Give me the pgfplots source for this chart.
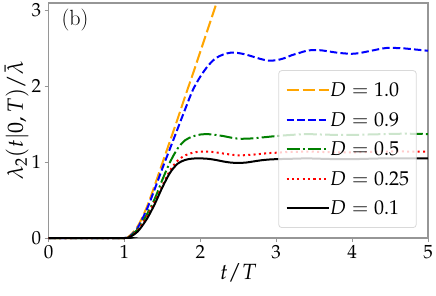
\documentclass[border=0pt]{standalone}
\usepackage{mathpazo}
\usepackage{pgfplots}
\pgfplotsset{compat=1.18}
\definecolor{mplorange}{RGB}{255,165,0}
\definecolor{mplgreen}{RGB}{0,128,0}
\definecolor{spine}{RGB}{150,150,150}
\begin{document}
\begin{tikzpicture}
\begin{axis}[
  scale only axis,
  width=379.4pt, height=235pt,
  xmin=0, xmax=5, ymin=0, ymax=3.1,
  xtick={0,1,2,3,4,5}, ytick={0,1,2,3},
  tick pos=left, tick align=outside,
  major tick length=4pt,
  axis line style={spine, line width=1.1pt},
  every tick/.style={spine, line width=1pt},
  tick label style={font=\fontsize{19}{22}\selectfont},
  label style={font=\fontsize{22}{26}\selectfont},
  xlabel={$t/T$},
  ylabel={$\lambda_2(t|0,T)/\bar{\lambda}$},
  xlabel style={yshift=2pt},
  ylabel style={yshift=-4pt},
  clip=false,
  legend image code/.code={\draw[#1] plot coordinates {(0pt,0pt) (21pt,0pt) (42pt,0pt)};},
  legend style={at={(0.970,0.0426)}, anchor=south east,
    fill=white, fill opacity=0.8, draw opacity=1, text opacity=1,
    draw=black!15, line width=0.8pt, rounded corners=3pt,
    font=\fontsize{20}{24}\selectfont,
    inner xsep=7pt, inner ysep=12pt,
    row sep=14.5pt, column sep=0pt,
    nodes={inner sep=0pt, text height=14pt, text depth=1pt},
    legend cell align=left},
  /tikz/every even column/.append style={column sep=16pt},
  every axis plot/.append style={line width=2pt, smooth, tension=0.5},
]
\addplot[mplorange, dash pattern=on 12pt off 4pt] coordinates {
(0,0)(1,0)(1.05,0.015)(1.1,0.06)(1.15,0.12)(1.2,0.2)(1.3,0.42)(1.4,0.7)(1.5,0.99)(1.6,1.28)(1.7,1.57)(1.8,1.87)(1.9,2.16)(2.0,2.46)(2.1,2.76)(2.2,3.06)(2.21,3.09)};
\addlegendentry{$D=1.0$}
\addplot[blue, dash pattern=on 7.4pt off 3.2pt] coordinates {
(0,0)(1,0)(1.05,0.012)(1.1,0.05)(1.15,0.1)(1.2,0.18)(1.3,0.39)(1.4,0.65)(1.5,0.92)(1.6,1.18)(1.7,1.44)(1.8,1.70)(1.9,1.95)(2.0,2.13)(2.1,2.27)(2.2,2.37)(2.3,2.42)(2.4,2.445)(2.5,2.44)(2.6,2.42)(2.7,2.39)(2.8,2.36)(2.9,2.34)(3.0,2.345)(3.1,2.37)(3.2,2.41)(3.3,2.44)(3.4,2.47)(3.5,2.48)(3.6,2.475)(3.7,2.46)(3.8,2.445)(3.9,2.435)(4.0,2.43)(4.1,2.44)(4.2,2.46)(4.3,2.48)(4.4,2.50)(4.5,2.51)(4.6,2.505)(4.7,2.5)(4.8,2.49)(4.9,2.48)(5.0,2.47)};
\addlegendentry{$D=0.9$}
\addplot[mplgreen, dash pattern=on 12.8pt off 3.2pt on 2pt off 3.2pt] coordinates {
(0,0)(1,0)(1.05,0.01)(1.1,0.04)(1.15,0.09)(1.2,0.15)(1.3,0.32)(1.4,0.52)(1.5,0.77)(1.6,1.0)(1.7,1.18)(1.8,1.29)(1.9,1.34)(2.0,1.365)(2.1,1.37)(2.2,1.36)(2.3,1.345)(2.4,1.325)(2.5,1.31)(2.6,1.31)(2.7,1.315)(2.8,1.325)(2.9,1.335)(3.0,1.345)(3.2,1.36)(3.4,1.37)(3.6,1.365)(3.8,1.36)(4.0,1.36)(4.2,1.365)(4.4,1.37)(4.6,1.375)(4.8,1.375)(5.0,1.37)};
\addlegendentry{$D=0.5$}
\addplot[red, dash pattern=on 2pt off 3.3pt] coordinates {
(0,0)(1,0)(1.05,0.008)(1.1,0.035)(1.15,0.075)(1.2,0.13)(1.3,0.29)(1.4,0.48)(1.5,0.69)(1.6,0.89)(1.7,1.02)(1.8,1.09)(1.9,1.125)(2.0,1.14)(2.1,1.14)(2.2,1.13)(2.3,1.115)(2.4,1.1)(2.5,1.09)(2.6,1.093)(2.7,1.1)(2.8,1.11)(2.9,1.12)(3.0,1.125)(3.2,1.135)(3.4,1.14)(3.6,1.135)(3.8,1.13)(4.0,1.13)(4.2,1.135)(4.4,1.14)(4.6,1.142)(4.8,1.14)(5.0,1.14)};
\addlegendentry{$D=0.25$}
\addplot[black, solid] coordinates {
(0,0)(1,0)(1.05,0.006)(1.1,0.03)(1.15,0.065)(1.2,0.115)(1.3,0.26)(1.4,0.45)(1.5,0.67)(1.6,0.86)(1.7,0.98)(1.8,1.03)(1.9,1.048)(2.0,1.05)(2.1,1.045)(2.2,1.03)(2.3,1.01)(2.4,0.995)(2.5,0.99)(2.6,0.995)(2.7,1.01)(2.8,1.025)(2.9,1.035)(3.0,1.04)(3.2,1.045)(3.4,1.05)(3.6,1.045)(3.8,1.04)(4.0,1.04)(4.2,1.045)(4.4,1.05)(4.6,1.052)(4.8,1.05)(5.0,1.05)};
\addlegendentry{$D=0.1$}
\node[font=\fontsize{22}{26}\selectfont] at (rel axis cs:0.0697,0.926) {(b)};
\end{axis}
\pgfresetboundingbox
\path[use as bounding box] (-48.6pt,-57pt) rectangle (387.4pt,238pt);
\end{tikzpicture}
\end{document}
